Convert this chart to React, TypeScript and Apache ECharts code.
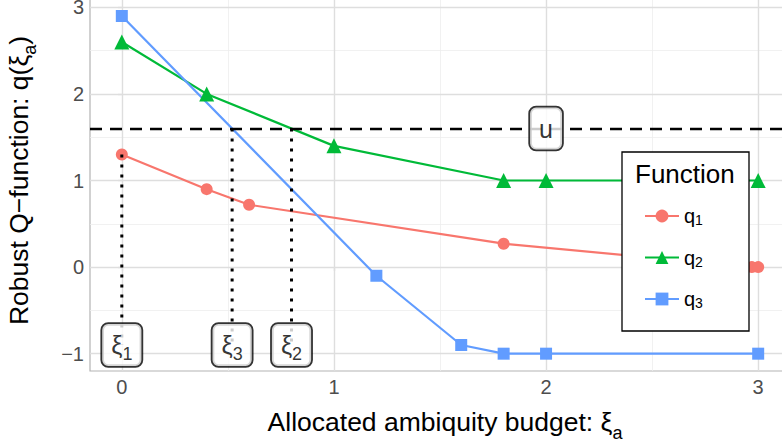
import React, { useEffect, useRef } from "react";
import * as echarts from "echarts";

// ---- data ----
const q1X = [0, 0.4, 0.6, 1.8, 2.97, 3];
const q1Y = [1.3, 0.9, 0.72, 0.27, 0, 0];
const q2X = [0, 0.4, 1, 1.8, 2, 3];
const q2Y = [2.6, 2.0, 1.4, 1.0, 1.0, 1.0];
const q3X = [0, 1.2, 1.6, 1.8, 2, 3];
const q3Y = [2.9, -0.1, -0.9, -1, -1, -1];
const uLevel = 1.6;
const uX = 2;
const xiNames = ["1", "3", "2"];
const xiX = [0, 0.52, 0.8];
const xiTop = [1.3, 1.6, 1.6];
const xiLabelY = -0.9;
const xTicks = [0, 1, 2, 3];
const yTicks = [-1, 0, 1, 2, 3];
const xMinor = [0.5, 1.5, 2.5];
const yMinor = [-0.5, 0.5, 1.5, 2.5];

const FONT = "Liberation Sans, Arial, Helvetica, sans-serif";
const C1 = "#F8766D";
const C2 = "#00BA38";
const C3 = "#619CFF";

const zip = (xs: number[], ys: number[]) => xs.map((x, i) => [x, ys[i]]);

export default function App() {
  const ref = useRef<HTMLDivElement>(null);
  useEffect(() => {
    document.body.style.margin = "0";
    const chart = echarts.init(ref.current!, null, { renderer: "svg" });

    const gridLines: any[] = [
      ...xMinor.map((v) => ({ xAxis: v, lineStyle: { color: "#EDEDED", width: 0.8, type: "solid" } })),
      ...yMinor.map((v) => ({ yAxis: v, lineStyle: { color: "#EDEDED", width: 0.8, type: "solid" } })),
      ...xTicks.map((v) => ({ xAxis: v, lineStyle: { color: "#DEDEDE", width: 1.4, type: "solid" } })),
      ...yTicks.map((v) => ({ yAxis: v, lineStyle: { color: "#DEDEDE", width: 1.4, type: "solid" } })),
    ];

    const titleRich = {
      m: { fontSize: 26.5, fontFamily: FONT, color: "#000" },
      a: { fontSize: 18, fontFamily: FONT, color: "#000", verticalAlign: "bottom", lineHeight: 18, padding: [0, 0, -7, 0] },
    };

    const lineSeries = (name: string, xs: number[], ys: number[], color: string, symbol: string, size: number) => ({
      name,
      type: "line",
      data: zip(xs, ys),
      symbol,
      symbolSize: size,
      showSymbol: true,
      lineStyle: { color, width: 2.2 },
      itemStyle: { color },
      z: 3,
    });

    const option: any = {
      animation: false,
      textStyle: { fontFamily: FONT },
      grid: { left: 90, right: -8, top: -10, bottom: 73, show: true, borderColor: "#B3B3B3", borderWidth: 1.2, backgroundColor: "#fff", outerBoundsMode: "none" },
      xAxis: {
        type: "value",
        min: -0.15,
        max: 3.15,
        name: "Allocated ambiquity budget: {m|ξ}{a|a}",
        nameLocation: "middle",
        nameGap: 37,
        nameTextStyle: {
          fontSize: 26.5,
          color: "#000",
          fontFamily: FONT,
          padding: [0, 0, 0, 10],
          rich: titleRich,
        },
        axisLine: { show: false },
        axisTick: { show: true, customValues: xTicks, length: 4, lineStyle: { color: "#B3B3B3", width: 1.2 } },
        axisLabel: { customValues: xTicks, fontSize: 20, color: "#4D4D4D", margin: 6, fontFamily: FONT },
        splitLine: { show: false },
      },
      yAxis: {
        type: "value",
        min: -1.2,
        max: 3.2,
        name: "Robust Q\u2212function: q({m|ξ}{a|a})",
        nameLocation: "middle",
        nameRotate: 90,
        nameGap: 58,
        nameTextStyle: {
          fontSize: 26.5,
          color: "#000",
          fontFamily: FONT,
          rich: titleRich,
        },
        axisLine: { show: false },
        axisTick: { show: true, customValues: yTicks, length: 4, lineStyle: { color: "#B3B3B3", width: 1.2 } },
        axisLabel: {
          customValues: yTicks,
          fontSize: 20,
          color: "#4D4D4D",
          margin: 6,
          fontFamily: FONT,
          formatter: (v: number) => String(v).replace("-", "\u2212"),
        },
        splitLine: { show: false },
      },
      legend: {
        orient: "vertical",
        left: 639,
        top: 200,
        itemWidth: 34,
        itemHeight: 16,
        itemGap: 19.5,
        data: ["q1", "q2", "q3"],
        formatter: (n: string) => "{q|q}{s|" + n.slice(1) + "}",
        textStyle: {
          fontSize: 20,
          lineHeight: 22,
          color: "#000",
          fontFamily: FONT,
          rich: {
            q: { fontSize: 20, lineHeight: 22, fontFamily: FONT, color: "#000" },
            s: { fontSize: 14, fontFamily: FONT, color: "#000", verticalAlign: "bottom", lineHeight: 8 },
          },
        },
        z: 12,
      },
      graphic: [
        { type: "rect", shape: { x: 622, y: 152, width: 127, height: 179 }, style: { fill: "#fff", stroke: "#000", lineWidth: 1.3 }, z: 11 },
        { type: "text", x: 635, y: 161, style: { text: "Function", fontSize: 26, fontFamily: FONT, fill: "#000" }, z: 12 },
      ],
      series: [
        {
          name: "grid",
          type: "line",
          data: [],
          z: 1,
          markLine: { silent: true, z: 1, symbol: ["none", "none"], label: { show: false }, data: gridLines, animation: false },
        },
        lineSeries("q1", q1X, q1Y, C1, "circle", 12),
        lineSeries("q2", q2X, q2Y, C2, "triangle", 15),
        lineSeries("q3", q3X, q3Y, C3, "rect", 12),
        {
          name: "u",
          type: "line",
          data: [],
          z: 4,
          markLine: {
            silent: true,
            z: 4,
            symbol: ["none", "none"],
            label: { show: false },
            lineStyle: { color: "#000", width: 2.4, type: [12, 8] },
            data: [{ yAxis: uLevel }],
          },
        },
        ...xiX.map((x, i) => ({
          name: "xi" + xiNames[i],
          type: "line",
          data: [[x, xiTop[i]], [x, xiLabelY]],
          symbol: "none",
          lineStyle: { color: "#000", width: 3, type: [3, 7] },
          z: 4,
        })),
        {
          name: "labels",
          type: "scatter",
          symbolSize: 0,
          z: 6,
          data: [
            ...xiX.map((x, i) => ({
              value: [x, xiLabelY],
              label: { formatter: "{m|ξ}{s|" + xiNames[i] + "}" },
            })),
            { value: [uX, uLevel], label: { formatter: "{m|u}" } },
          ],
          label: {
            show: true,
            position: "inside",
            backgroundColor: "#fff",
            borderColor: "#000",
            borderWidth: 1.8,
            borderRadius: 6,
            padding: [7, 9, 7, 9],
            rich: {
              m: { fontSize: 25, fontFamily: FONT, color: "#000", lineHeight: 28 },
              s: { fontSize: 18, fontFamily: FONT, color: "#000", verticalAlign: "bottom", lineHeight: 18, padding: [0, 0, -4, 0] },
            },
          },
        },
      ],
    };
    chart.setOption(option);
    return () => chart.dispose();
  }, []);
  return <div ref={ref} style={{ width: 782, height: 444 }} />;
}
